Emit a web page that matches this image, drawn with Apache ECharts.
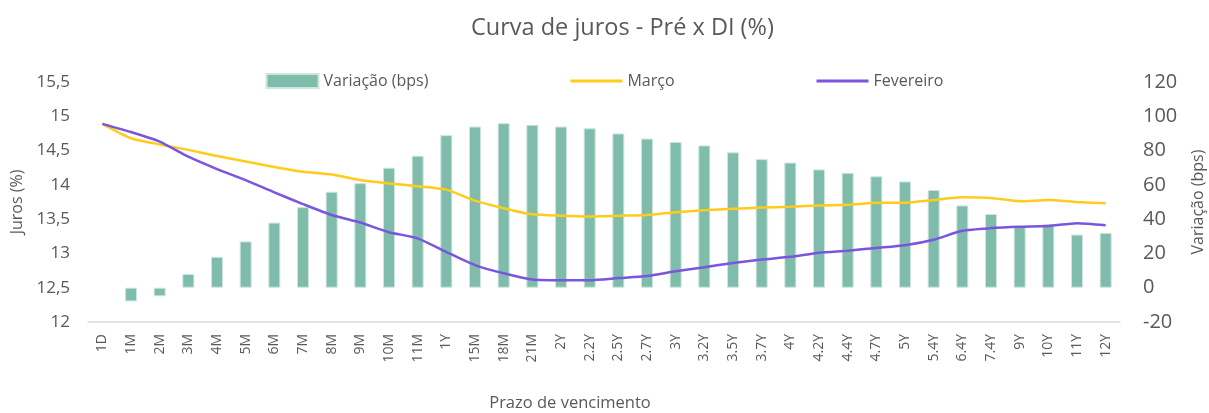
<!DOCTYPE html>
<html><head><meta charset="utf-8">
<script src="https://cdn.jsdelivr.net/npm/echarts@6/dist/echarts.min.js"></script>
<style>html,body{margin:0;padding:0;background:#fff}#c{width:1209px;height:413px}</style>
</head><body><div id="c"></div>
<script>
const categories = ['1D','1M','2M','3M','4M','5M','6M','7M','8M','9M','10M','11M','1Y','15M','18M','21M','2Y','2.2Y','2.5Y','2.7Y','3Y','3.2Y','3.5Y','3.7Y','4Y','4.2Y','4.4Y','4.7Y','5Y','5.4Y','6.4Y','7.4Y','9Y','10Y','11Y','12Y'];
const variacao = [null,-8,-5,8,18,27,38,47,56,61,70,77,89,94,96,95,94,93,90,87,85,83,79,75,73,69,67,65,62,57,48,43,36,37,31,32];
const marco = [14.89,14.68,14.59,14.51,14.42,14.34,14.26,14.19,14.15,14.07,14.02,13.98,13.93,13.77,13.66,13.57,13.55,13.54,13.55,13.56,13.60,13.63,13.65,13.67,13.68,13.70,13.71,13.74,13.74,13.78,13.82,13.81,13.76,13.78,13.75,13.73];
const fevereiro = [14.89,14.77,14.63,14.41,14.23,14.07,13.89,13.72,13.56,13.45,13.31,13.22,13.02,12.83,12.71,12.62,12.61,12.61,12.64,12.67,12.74,12.80,12.86,12.91,12.95,13.01,13.04,13.08,13.12,13.20,13.33,13.37,13.39,13.40,13.44,13.41];

const txt = '#595959';
const font = 'Open Sans';
const lineIcon = 'path://M0,0H52V3H0Z';
const chart = echarts.init(document.getElementById('c'));
chart.setOption({
  animation: false,
  textStyle: {fontFamily: font},
  title: {text: 'Curva de juros - Pré x DI (%)', left: 466, top: 11,
    textStyle: {fontFamily: font, fontSize: 23.5, fontWeight: 'normal', color: txt}},
  legend: {top: 68, left: 'center', itemGap: 142, itemWidth: 52, itemHeight: 14,
    textStyle: {fontFamily: font, fontSize: 16, color: txt},
    data: [{name: 'Variação (bps)', icon: 'rect'}, {name: 'Março', icon: lineIcon}, {name: 'Fevereiro', icon: lineIcon}]},
  grid: {left: 88, right: 89, top: 82, bottom: 91, containLabel: false, outerBoundsMode: 'none'},
  xAxis: {type: 'category', data: categories, boundaryGap: true,
    axisLine: {onZero: false, lineStyle: {color: '#d9d9d9', width: 1.5}}, axisTick: {show: false},
    axisLabel: {rotate: 90, color: txt, fontSize: 14, fontFamily: font, interval: 0, margin: 12},
    name: 'Prazo de vencimento', nameLocation: 'middle', nameGap: 73,
    nameTextStyle: {color: txt, fontSize: 16.5, fontFamily: font, padding: [0, 68, 0, 0]}},
  yAxis: [
    {type: 'value', min: 12, max: 15.5, interval: 0.5,
      axisLine: {show: false}, axisTick: {show: false}, splitLine: {show: false},
      axisLabel: {color: txt, fontSize: 17, fontFamily: font, margin: 18,
        formatter: v => String(+v.toFixed(1)).replace('.', ',')},
      name: 'Juros (%)', nameLocation: 'middle', nameGap: 62, nameRotate: 90,
      nameTextStyle: {color: txt, fontSize: 16, fontFamily: font}},
    {type: 'value', min: -20, max: 120, interval: 20,
      axisLine: {show: false}, axisTick: {show: false}, splitLine: {show: false},
      axisLabel: {color: txt, fontSize: 20, fontFamily: font, margin: 23},
      name: 'Variação (bps)', nameLocation: 'middle', nameGap: 70, nameRotate: 90,
      nameTextStyle: {color: txt, fontSize: 16, fontFamily: font}}
  ],
  series: [
    {name: 'Variação (bps)', type: 'bar', yAxisIndex: 1, data: variacao, barWidth: 12,
      itemStyle: {color: '#7fbcab', borderColor: '#cde6de', borderWidth: 1}},
    {name: 'Março', type: 'line', yAxisIndex: 0, data: marco, symbol: 'none', smooth: 0.2,
      lineStyle: {color: '#ffcc1c', width: 2.5}, itemStyle: {color: '#ffcc1c'}},
    {name: 'Fevereiro', type: 'line', yAxisIndex: 0, data: fevereiro, symbol: 'none', smooth: 0.2,
      lineStyle: {color: '#7a55de', width: 2.5}, itemStyle: {color: '#7a55de'}}
  ]
});
</script></body></html>
